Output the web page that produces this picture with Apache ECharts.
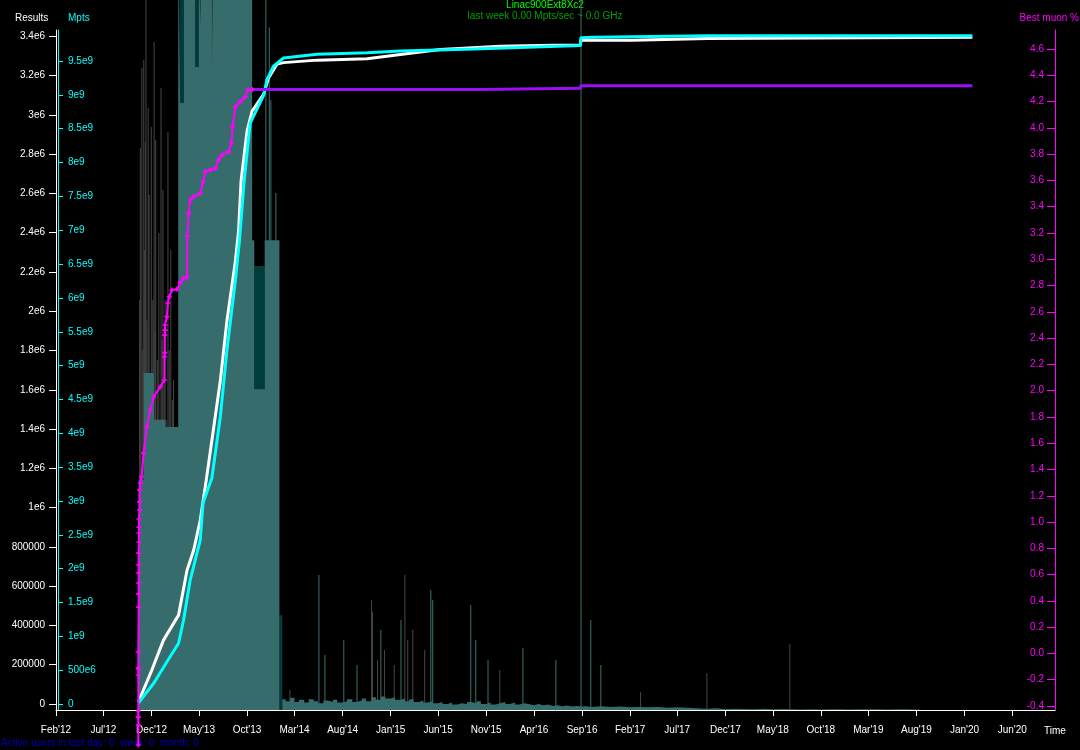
<!DOCTYPE html>
<html>
<head>
<meta charset="utf-8">
<title>Linac900Ext8Xc2</title>
<script src="https://cdn.jsdelivr.net/npm/echarts@6/dist/echarts.min.js"></script>
<style>
html, body { margin: 0; padding: 0; background: #000; }
#chart { width: 1080px; height: 750px; }
</style>
</head>
<body>
<div id="chart"></div>
<script>
// axis tick values
const xTicks = ['2012-02-01', '2012-07-01', '2012-12-01', '2013-05-01', '2013-10-01', '2014-03-01',
  '2014-08-01', '2015-01-01', '2015-06-01', '2015-11-01', '2016-04-01', '2016-09-01', '2017-02-01',
  '2017-07-01', '2017-12-01', '2018-05-01', '2018-10-01', '2019-03-01', '2019-08-01', '2020-01-01', '2020-06-01'];
const resultsTicks = [0, 200000, 400000, 600000, 800000, 1000000, 1200000, 1400000, 1600000, 1800000,
  2000000, 2200000, 2400000, 2600000, 2800000, 3000000, 3200000, 3400000];
const mptsTicks = [0, 5e8, 1e9, 1.5e9, 2e9, 2.5e9, 3e9, 3.5e9, 4e9, 4.5e9, 5e9, 5.5e9, 6e9, 6.5e9,
  7e9, 7.5e9, 8e9, 8.5e9, 9e9, 9.5e9];
const muonTicks = [-0.4, -0.2, 0, 0.2, 0.4, 0.6, 0.8, 1.0, 1.2, 1.4, 1.6, 1.8, 2.0, 2.2, 2.4, 2.6,
  2.8, 3.0, 3.2, 3.4, 3.6, 3.8, 4.0, 4.2, 4.4, 4.6];

// cumulative results (white, Results axis)
const cumulativeResults = [
  ['2012-10-20', 10000], ['2012-12-02', 172800], ['2013-01-08', 325300], ['2013-02-25', 452400],
  ['2013-03-24', 681100], ['2013-04-14', 782700], ['2013-05-05', 935200], ['2013-05-24', 1138500],
  ['2013-07-08', 1646800], ['2013-07-29', 1951800], ['2013-08-25', 2256800], ['2013-09-04', 2409200],
  ['2013-09-12', 2663300], ['2013-10-01', 2917400], ['2013-10-17', 3019100], ['2013-11-23', 3105500],
  ['2013-12-08', 3186900], ['2014-01-04', 3258100], ['2014-01-25', 3265700], ['2014-05-12', 3278400],
  ['2014-10-18', 3285000], ['2015-02-01', 3307400], ['2015-06-08', 3332800], ['2015-12-16', 3349600],
  ['2016-06-02', 3354700], ['2016-08-27', 3354700], ['2016-08-28', 3380100], ['2017-02-08', 3380100],
  ['2017-10-05', 3388700], ['2020-01-26', 3395300]
];

// cumulative Mpts (cyan, Mpts axis)
const cumulativeMpts = [
  ['2012-10-20', 15e6], ['2012-12-08', 306e6], ['2013-01-19', 625e6], ['2013-02-25', 897e6],
  ['2013-03-13', 1241e6], ['2013-04-03', 1832e6], ['2013-05-05', 2423e6], ['2013-05-14', 2970e6],
  ['2013-06-11', 3339e6], ['2013-07-08', 4245e6], ['2013-07-29', 5230e6], ['2013-08-25', 6265e6],
  ['2013-09-07', 6856e6], ['2013-09-12', 7151e6], ['2013-09-22', 7742e6], ['2013-10-11', 8584e6],
  ['2013-11-23', 8998e6], ['2013-12-03', 9220e6], ['2013-12-24', 9426e6], ['2014-01-25', 9545e6],
  ['2014-05-12', 9600e6], ['2014-10-18', 9623e6], ['2015-02-01', 9648e6], ['2015-09-21', 9678e6],
  ['2016-08-27', 9729e6], ['2016-08-28', 9845e6], ['2016-10-07', 9851e6], ['2017-10-05', 9874e6],
  ['2020-01-26', 9874e6]
];

// best muon % (magenta points, right axis)
const bestMuon = [
  ['2012-10-20', -0.697], ['2012-10-20', -0.545], ['2012-10-20', -0.484], ['2012-10-20', -0.438],
  ['2012-10-20', -0.164], ['2012-10-20', -0.118], ['2012-10-20', -0.111], ['2012-10-20', 0.011],
  ['2012-10-21', 0.353], ['2012-10-21', 0.452], ['2012-10-21', 0.536], ['2012-10-21', 0.612],
  ['2012-10-21', 0.673], ['2012-10-21', 0.764], ['2012-10-22', 0.848], ['2012-10-22', 0.917],
  ['2012-10-22', 0.962], ['2012-10-22', 1.023], ['2012-10-24', 1.092], ['2012-10-24', 1.153],
  ['2012-10-24', 1.244], ['2012-10-27', 1.297], ['2012-10-30', 1.345], ['2012-11-06', 1.525],
  ['2012-11-16', 1.726], ['2012-11-27', 1.853], ['2012-12-08', 1.954], ['2012-12-29', 2.030],
  ['2013-01-11', 2.081], ['2013-01-11', 2.258], ['2013-01-12', 2.289], ['2013-01-12', 2.423],
  ['2013-01-13', 2.461], ['2013-01-13', 2.500], ['2013-01-19', 2.563], ['2013-01-22', 2.667],
  ['2013-01-26', 2.715], ['2013-02-04', 2.766], ['2013-02-20', 2.771], ['2013-03-02', 2.822],
  ['2013-03-13', 2.855], ['2013-03-24', 2.863], ['2013-03-25', 3.177], ['2013-03-29', 3.349],
  ['2013-04-03', 3.451], ['2013-04-14', 3.476], ['2013-05-05', 3.502], ['2013-05-14', 3.590],
  ['2013-05-21', 3.666], ['2013-06-06', 3.679], ['2013-06-22', 3.692], ['2013-07-02', 3.755],
  ['2013-07-13', 3.793], ['2013-08-03', 3.818], ['2013-08-12', 3.882], ['2013-08-16', 4.009],
  ['2013-08-25', 4.161], ['2013-09-09', 4.199], ['2013-09-25', 4.237], ['2013-10-03', 4.288],
  ['2013-10-17', 4.293]
];

// best muon % plateau (purple)
const bestMuonFlat = [
  ['2013-10-17', 4.293], ['2015-10-08', 4.293], ['2015-10-08', 4.301], ['2016-08-27', 4.301],
  ['2016-08-28', 4.321], ['2020-01-26', 4.321]
];

// Mpts per day (teal area, drawn from the time axis)
const dailyMpts = [
  ['2012-10-19', 0], ['2012-10-21', 3.4e9], ['2012-11-06', 4.98e9], ['2012-12-07', 6.8e9],
  ['2012-12-09', 4.29e9], ['2013-01-14', 4.18e9], ['2013-02-24', 12e9], ['2013-03-02', 8.97e9],
  ['2013-03-14', 12e9], ['2013-04-19', 9.5e9], ['2013-04-30', 12e9], ['2013-05-05', 10.08e9],
  ['2013-05-08', 12e9], ['2013-06-11', 9.35e9], ['2013-06-15', 12e9], ['2013-10-17', 6.94e9],
  ['2013-10-24', 4.74e9], ['2013-11-26', 6.94e9], ['2014-01-12', 0],
  ['2014-01-21', 160e6], ['2014-02-01', 130e6], ['2014-02-15', 180e6], ['2014-03-01', 120e6],
  ['2014-03-15', 150e6], ['2014-04-01', 110e6], ['2014-04-15', 160e6], ['2014-05-01', 130e6],
  ['2014-05-15', 100e6], ['2014-06-01', 140e6], ['2014-06-15', 120e6], ['2014-07-01', 150e6],
  ['2014-07-15', 110e6], ['2014-08-01', 130e6], ['2014-08-15', 160e6], ['2014-09-01', 120e6],
  ['2014-09-15', 140e6], ['2014-10-01', 170e6], ['2014-10-15', 130e6], ['2014-11-01', 190e6],
  ['2014-11-15', 150e6], ['2014-12-01', 200e6], ['2014-12-15', 170e6], ['2015-01-01', 190e6],
  ['2015-01-15', 150e6], ['2015-02-01', 170e6], ['2015-02-15', 130e6], ['2015-03-01', 160e6],
  ['2015-03-15', 120e6], ['2015-04-01', 140e6], ['2015-04-15', 110e6], ['2015-05-01', 130e6],
  ['2015-05-15', 100e6], ['2015-06-01', 120e6], ['2015-06-15', 90e6], ['2015-07-01', 110e6],
  ['2015-07-15', 80e6], ['2015-08-01', 100e6], ['2015-08-15', 90e6], ['2015-09-01', 120e6],
  ['2015-09-15', 100e6], ['2015-10-01', 130e6], ['2015-10-15', 90e6], ['2015-11-01', 110e6],
  ['2015-11-15', 80e6], ['2015-12-01', 100e6], ['2015-12-15', 120e6], ['2016-01-01', 90e6],
  ['2016-01-15', 110e6], ['2016-02-01', 80e6], ['2016-02-15', 100e6], ['2016-03-01', 90e6],
  ['2016-03-15', 70e6], ['2016-04-01', 90e6], ['2016-04-15', 70e6], ['2016-05-01', 80e6],
  ['2016-05-15', 60e6], ['2016-06-01', 70e6], ['2016-06-15', 55e6], ['2016-07-01', 65e6],
  ['2016-07-15', 50e6], ['2016-08-01', 60e6], ['2016-08-15', 50e6], ['2016-09-01', 55e6],
  ['2016-09-15', 45e6], ['2016-10-01', 55e6], ['2016-11-01', 45e6], ['2016-12-01', 50e6],
  ['2017-01-01', 40e6], ['2017-02-01', 45e6], ['2017-03-01', 40e6], ['2017-04-01', 45e6],
  ['2017-05-01', 35e6], ['2017-06-01', 40e6], ['2017-07-01', 35e6], ['2017-08-01', 25e6],
  ['2017-09-01', 20e6], ['2017-10-01', 25e6], ['2017-11-01', 15e6], ['2017-12-01', 20e6],
  ['2018-01-01', 15e6], ['2018-02-01', 12e6], ['2018-03-01', 18e6], ['2018-04-01', 10e6],
  ['2018-05-01', 15e6], ['2018-06-01', 10e6], ['2018-07-01', 8e6], ['2018-08-01', 12e6],
  ['2018-09-01', 8e6], ['2018-10-01', 10e6], ['2018-11-01', 12e6], ['2018-12-01', 8e6],
  ['2019-01-01', 10e6], ['2019-02-01', 12e6], ['2019-03-01', 10e6], ['2019-04-01', 8e6],
  ['2019-05-01', 12e6], ['2019-06-01', 10e6], ['2019-07-01', 8e6], ['2019-08-01', 10e6],
  ['2019-08-20', 0]
];

// darker teal behind the block
const dailyMptsDark = [
  ['2013-03-01', 0], ['2013-03-02', 12e9], ['2013-03-14', 0], ['2013-04-19', 12e9], ['2013-04-30', 0],
  ['2013-05-05', 12e9], ['2013-05-08', 0], ['2013-10-24', 6.56e9], ['2013-11-26', 0],
  ['2014-01-12', 1.4e9], ['2014-01-21', 0]
];

// single-day Mpts spikes
const mptsSpikes = [
  ['2013-11-28', 12e9], ['2013-12-09', 10.09e9], ['2013-12-14', 9.01e9], ['2013-12-30', 7.64e9],
  ['2014-05-16', 1.995e9], ['2014-06-04', 813e6], ['2014-08-03', 1.034e9], ['2014-09-14', 665e6],
  ['2014-11-29', 1.182e9], ['2015-02-01', 1.33e9], ['2015-05-07', 1.773e9], ['2015-05-13', 1.625e9],
  ['2015-09-11', 1.551e9], ['2015-09-27', 1.034e9], ['2015-11-05', 739e6], ['2016-02-24', 916e6],
  ['2016-06-08', 739e6], ['2016-08-27', 12e9], ['2016-09-27', 1.33e9], ['2016-10-29', 665e6]
];

// results per day (grey)
const dailyResults = [
  ['2012-10-26', 2084000], ['2012-10-28', 2857000], ['2012-11-02', 3263000], ['2012-11-05', 1830000],
  ['2012-11-08', 3304000], ['2012-11-11', 2338000], ['2012-11-13', 2887000], ['2012-11-15', 3610000],
  ['2012-11-18', 1980000], ['2012-11-22', 3060000], ['2012-11-25', 2618000], ['2012-11-29', 1677000],
  ['2012-12-02', 2963000], ['2012-12-07', 2084000], ['2012-12-11', 3395000], ['2012-12-14', 1930000],
  ['2012-12-16', 2897000], ['2012-12-21', 1780000], ['2012-12-26', 2425000], ['2012-12-30', 1474000],
  ['2013-01-02', 3162000], ['2013-01-05', 1880000], ['2013-01-08', 2643000], ['2013-01-12', 1677000],
  ['2013-01-15', 2084000], ['2013-01-18', 1474000], ['2013-01-24', 2938000], ['2013-01-28', 1830000],
  ['2013-02-02', 2338000], ['2013-02-07', 1576000], ['2013-02-11', 1677000], ['2013-02-16', 1372000],
  ['2013-02-21', 1423000], ['2013-03-08', 3580000], ['2013-06-12', 3610000],
  ['2014-02-16', 101700], ['2014-11-03', 559100], ['2014-11-06', 498100], ['2014-11-22', 254000],
  ['2014-12-14', 305000], ['2015-01-14', 229000], ['2015-02-17', 686200], ['2015-02-26', 355800],
  ['2015-03-14', 406600], ['2015-04-21', 305000], ['2015-12-16', 203300], ['2017-03-08', 91500],
  ['2017-10-05', 188100], ['2018-06-26', 335500]
];

const MONTHS = ['Jan', 'Feb', 'Mar', 'Apr', 'May', 'Jun', 'Jul', 'Aug', 'Sep', 'Oct', 'Nov', 'Dec'];
const FONT = 'Liberation Sans';

function t(s) { return Date.parse(s); }
function toPoints(arr) { return arr.map(function (d) { return [t(d[0]), d[1]]; }); }

const chart = echarts.init(document.getElementById('chart'), null, { renderer: 'canvas' });

const option = {
  backgroundColor: '#000',
  animation: false,
  textStyle: { fontFamily: FONT, fontSize: 10 },
  grid: { left: 56, right: 25, top: 30, bottom: 40, containLabel: false, outerBoundsMode: 'none' },
  xAxis: {
    type: 'value',
    min: t('2012-02-01'),
    max: t('2020-10-15'),
    axisLine: { show: true, onZero: false, lineStyle: { color: '#fff', width: 1 } },
    axisTick: { show: true, length: 6, lineStyle: { color: '#fff' }, customValues: xTicks.map(t) },
    axisLabel: {
      color: '#fff', fontSize: 10, fontFamily: FONT, margin: 15,
      customValues: xTicks.map(t),
      formatter: function (v) {
        const d = new Date(v);
        return MONTHS[d.getUTCMonth()] + "'" + String(d.getUTCFullYear()).slice(2);
      }
    },
    splitLine: { show: false }
  },
  yAxis: [
    {
      // Results
      type: 'value', position: 'left', min: -30550, max: 3431800,
      axisLine: { show: true, onZero: false, lineStyle: { color: '#fff', width: 1 } },
      axisTick: { show: true, length: 7, lineStyle: { color: '#fff' }, customValues: resultsTicks },
      axisLabel: {
        color: '#fff', fontSize: 10, fontFamily: FONT, margin: 11, customValues: resultsTicks,
        formatter: function (v) { return v < 1e6 ? String(v) : (v / 1e6) + 'e6'; }
      },
      splitLine: { show: false }
    },
    {
      // Mpts
      type: 'value', position: 'left', offset: -2, min: -88650000, max: 9958600000,
      axisLine: { show: true, onZero: false, lineStyle: { color: '#00ffff', width: 1 } },
      axisTick: { show: true, inside: true, length: 5, lineStyle: { color: '#00ffff' }, customValues: mptsTicks },
      axisLabel: {
        inside: true, color: '#00ffff', fontSize: 10, fontFamily: FONT, margin: 10, customValues: mptsTicks,
        formatter: function (v) {
          if (v === 0) return '0';
          if (v < 1e9) return (v / 1e6) + 'e6';
          return (v / 1e9) + 'e9';
        }
      },
      splitLine: { show: false }
    },
    {
      // Best muon %
      type: 'value', position: 'right', min: -0.4304, max: 4.745,
      axisLine: { show: true, onZero: false, lineStyle: { color: '#ff00ff', width: 1 } },
      axisTick: { show: true, inside: true, length: 8, lineStyle: { color: '#ff00ff' }, customValues: muonTicks },
      axisLabel: {
        inside: true, color: '#ff00ff', fontSize: 10, fontFamily: FONT, margin: 11, customValues: muonTicks,
        formatter: function (v) { return v.toFixed(1); }
      },
      splitLine: { show: false }
    },
    // per-day Mpts, baseline on the time axis
    { type: 'value', show: false, min: 0, max: 10047700000 },
    // per-day results, baseline on the time axis
    { type: 'value', show: false, min: 0, max: 3456400 }
  ],
  graphic: [
    { type: 'text', x: 545, y: 0, style: { text: 'Linac900Ext8Xc2', fill: '#00ff00', font: '10px "Liberation Sans"', textAlign: 'center', textVerticalAlign: 'top' } },
    { type: 'text', x: 545, y: 11, style: { text: 'last week 0.00 Mpts/sec ~ 0.0 GHz', fill: '#00a000', font: '10px "Liberation Sans"', textAlign: 'center', textVerticalAlign: 'top' } },
    { type: 'text', x: 15, y: 13, style: { text: 'Results', fill: '#fff', font: '10px "Liberation Sans"', textVerticalAlign: 'top' } },
    { type: 'text', x: 68, y: 13, style: { text: 'Mpts', fill: '#00ffff', font: '10px "Liberation Sans"', textVerticalAlign: 'top' } },
    { type: 'text', x: 1079, y: 13, style: { text: 'Best muon %', fill: '#ff00ff', font: '10px "Liberation Sans"', textAlign: 'right', textVerticalAlign: 'top' } },
    { type: 'text', x: 1044, y: 726, style: { text: 'Time', fill: '#fff', font: '10px "Liberation Sans"', textVerticalAlign: 'top' } },
    { type: 'text', x: 1, y: 738, style: { text: 'Active users in last day: 0  week: 0  month: 0', fill: '#0000b4', font: '10px "Liberation Sans"', textVerticalAlign: 'top' } }
  ],
  series: [
    {
      name: 'dark', type: 'line', yAxisIndex: 3, step: 'end', symbol: 'none', clip: false,
      lineStyle: { width: 0, opacity: 0 }, areaStyle: { color: '#003c3c', opacity: 1 },
      data: toPoints(dailyMptsDark)
    },
    {
      name: 'results/day', type: 'bar', yAxisIndex: 4, barWidth: 1, clip: false,
      itemStyle: { color: '#474747' }, data: toPoints(dailyResults)
    },
    {
      name: 'Mpts/day', type: 'line', yAxisIndex: 3, step: 'end', symbol: 'none', clip: false,
      lineStyle: { width: 0, opacity: 0 }, areaStyle: { color: '#376c6c', opacity: 1 },
      data: toPoints(dailyMpts)
    },
    {
      name: 'Mpts spikes', type: 'bar', yAxisIndex: 3, barWidth: 1, clip: false,
      itemStyle: { color: '#3a7070' }, data: toPoints(mptsSpikes)
    },
    {
      name: 'Results', type: 'line', yAxisIndex: 0, symbol: 'none', clip: false,
      lineStyle: { color: '#ffffff', width: 3 }, data: toPoints(cumulativeResults)
    },
    {
      name: 'Mpts', type: 'line', yAxisIndex: 1, symbol: 'none', clip: false,
      lineStyle: { color: '#00ffff', width: 3 }, data: toPoints(cumulativeMpts)
    },
    {
      name: 'Best muon flat', type: 'line', yAxisIndex: 2, symbol: 'none', clip: false,
      lineStyle: { color: '#9b0ff5', width: 3 }, data: toPoints(bestMuonFlat)
    },
    {
      name: 'Best muon %', type: 'line', yAxisIndex: 2, clip: false,
      symbol: 'path://M2,0H4V2H6V4H4V6H2V4H0V2H2Z', symbolSize: 5, showSymbol: true,
      itemStyle: { color: '#ff00ff' },
      lineStyle: { color: '#ff00ff', width: 2 },
      data: toPoints(bestMuon)
    }
  ]
};

chart.setOption(option);
</script>
</body>
</html>
